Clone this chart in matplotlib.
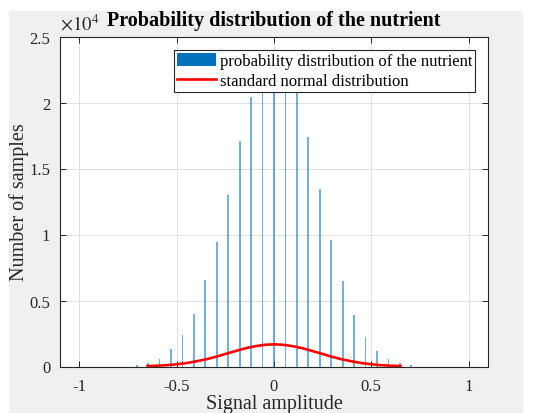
import matplotlib
matplotlib.use("Agg")
import matplotlib.pyplot as plt
from matplotlib.patches import Rectangle

# ------------------------------------------------------------------------------
# Data.
# ------------------------------------------------------------------------------

# histogram bins (step of about 1/17) and their counts
bin_step = 1 / 17
bin_index = list(range(-12, 13))
bin_counts = [
    80, 300, 600, 1310, 2400, 3940, 6590, 9420, 13030, 17120, 20400,
    22600, 23500, 23300, 21900,
    17350, 13460, 9570, 6490, 3910, 2250, 1190, 600, 300, 100,
]

# red curve, sampled every 0.05 from -0.65 to 0.65
curve_x = [round(-0.65 + 0.05 * i, 2) for i in range(27)]
curve_half = [35, 60, 100, 170, 260, 390, 540, 730, 950, 1160, 1370, 1530, 1640]
curve_y = curve_half + [1680] + curve_half[::-1]

x_ticks = [-1, -0.5, 0, 0.5, 1]
x_tick_labels = ["-1", "-0.5", "0", "0.5", "1"]
y_ticks = [0, 5000, 10000, 15000, 20000, 25000]
y_tick_labels = ["0", "0.5", "1", "1.5", "2", "2.5"]

# ------------------------------------------------------------------------------
# Figure.
# ------------------------------------------------------------------------------

plt.rcParams["font.family"] = ["Liberation Serif", "DejaVu Serif"]
plt.rcParams["mathtext.fontset"] = "stix"

fig = plt.figure(figsize=(5.36, 4.14), dpi=100, facecolor="white")
fig.patches.append(Rectangle((8.5 / 536, 0), (523 - 8.5) / 536, 402 / 414,
                             transform=fig.transFigure, facecolor="#f0f0f0",
                             edgecolor="none", zorder=-10))

ax = fig.add_axes([60 / 536, 46.5 / 414, 428 / 536, 330 / 414])
ax.set_facecolor("white")

bin_x = [k * bin_step for k in bin_index]
ax.bar(bin_x, bin_counts, width=0.009, color="#0072BD", alpha=0.55,
       linewidth=0, zorder=2)
ax.plot(curve_x, curve_y, color="red", linewidth=1.9, zorder=3)

ax.set_xlim(-1.1, 1.1)
ax.set_ylim(0, 25000)
ax.set_xticks(x_ticks)
ax.set_xticklabels(x_tick_labels)
ax.set_yticks(y_ticks)
ax.set_yticklabels(y_tick_labels)
ax.tick_params(direction="in", length=4, width=0.7, colors="#262626",
               labelsize=12, top=True, right=True, pad=7)
ax.tick_params(axis="x", pad=8)
for s in ax.spines.values():
    s.set_color("#262626")
    s.set_linewidth(0.8)
ax.grid(True, color="#dedede", linewidth=0.7)
ax.set_axisbelow(True)

ax.text(0.0, 1.008, r"$\times10^4$", transform=ax.transAxes, fontsize=13.5,
        ha="left", va="bottom", color="#262626")
ax.set_title("Probability distribution of the nutrient", fontsize=14.5,
             fontweight="bold", pad=8)
ax.set_xlabel("Signal amplitude", fontsize=14.5, labelpad=0, color="#262626")
ax.set_ylabel("Number of samples", fontsize=14.5, labelpad=0, color="#262626")

legend_handles = [
    Rectangle((0, 0), 1, 1, facecolor="#0072BD", edgecolor="none"),
    plt.Line2D([], [], color="red", linewidth=1.9),
]
leg = ax.legend(legend_handles,
                ["probability distribution of the nutrient",
                 "standard normal distribution"],
                loc="upper right", bbox_to_anchor=(0.9696, 0.959),
                borderaxespad=0, fontsize=12, fancybox=False, framealpha=1,
                edgecolor="#262626", handlelength=2.35, handleheight=0.9,
                handletextpad=0.25, labelspacing=0.2, borderpad=0.15)
leg.get_frame().set_linewidth(0.8)
leg.set_zorder(5)

fig.savefig("out.png", dpi=100, facecolor=fig.get_facecolor())
